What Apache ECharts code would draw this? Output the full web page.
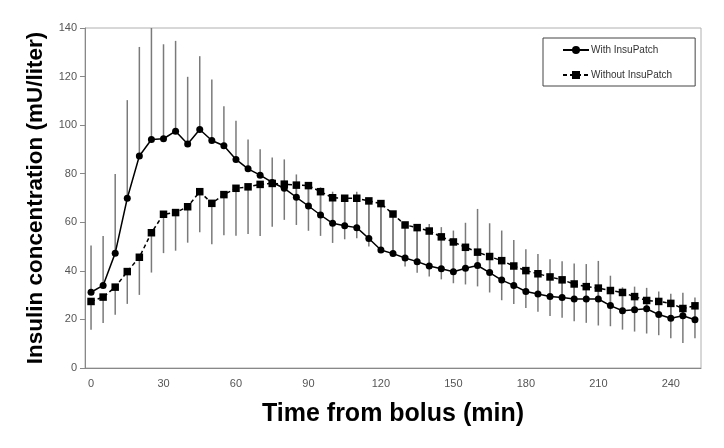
<!DOCTYPE html>
<html>
<head>
<meta charset="utf-8">
<script src="https://cdn.jsdelivr.net/npm/echarts@6/dist/echarts.min.js"></script>
<style>html,body{margin:0;padding:0;background:#fff}#c{width:724px;height:448px}</style>
</head>
<body>
<div id="c"></div>
<script>
// Time points (min), every 5 min
const times = ['0','5','10','15','20','25','30','35','40','45','50','55','60','65','70','75','80','85','90','95','100','105','110','115','120','125','130','135','140','145','150','155','160','165','170','175','180','185','190','195','200','205','210','215','220','225','230','235','240','245','250'];

// With InsuPatch: mean values
const withMean = [31.2,34.0,47.3,69.9,87.3,94.1,94.4,97.5,92.2,98.2,93.7,91.5,85.9,
  82.0,79.4,76.4,74.0,70.3,66.7,63.0,59.6,58.6,57.8,53.3,48.6,
  47.1,45.3,43.8,42.0,40.9,39.6,41.1,42.2,39.3,36.2,34.0,31.5,30.5,29.4,
  29.0,28.4,28.4,28.4,25.7,23.6,24.0,24.4,22.0,20.5,21.5,19.9];
// With InsuPatch: upper end of error bar
const withUpper = [50.4,54.4,79.9,110.3,132.2,140,133.3,134.7,119.9,128.4,118.8,107.8,101.8,
  94.1,90.1,86.7,85.9,79.7,76.0,74.4,72.6,70.5,72.6,69.5,68.5,
  64.4,59.8,59.3,59.3,58.0,56.6,59.8,65.5,59.6,56.6,52.7,48.9,46.9,44.8,
  44.0,43.0,42.8,44.1,38.0,33.2,33.5,33.0,31.5,30.6,31.0,29.0];

// Without InsuPatch: mean values
const withoutMean = [27.4,29.2,33.3,39.7,45.6,55.7,63.3,64.0,66.4,72.6,67.8,71.4,74.0,
  74.6,75.6,76.0,75.7,75.3,75.1,72.6,70.1,69.9,69.9,68.8,67.7,
  63.4,58.9,57.8,56.4,54.0,51.9,49.7,47.7,45.9,44.2,42.0,40.1,38.8,37.5,
  36.3,34.6,33.5,32.9,31.9,31.1,29.4,27.8,27.4,26.6,24.5,25.6];
// Without InsuPatch: lower end of error bar
const withoutLower = [15.7,18.5,21.9,26.4,30.1,39.3,47.3,48.3,51.6,55.9,51.0,54.7,54.5,
  55.2,54.4,58.2,61.0,58.9,56.5,54.4,51.5,53.0,53.4,50.0,48.6,
  47.0,41.8,39.2,37.7,36.5,34.9,34.4,33.6,31.1,27.9,26.4,24.7,23.2,21.4,
  20.7,19.2,18.6,17.5,17.2,15.8,15.0,14.2,13.5,12.2,10.3,12.3];

const yTicks = {min: 0, max: 140, interval: 20};

const FONT = 'Liberation Sans, Arial, sans-serif';

const errWith = times.map((t, i) => [i, withMean[i], withUpper[i]]);
const errWithout = times.map((t, i) => [i, withoutMean[i], withoutLower[i]]);

function errRender(params, api) {
  const p1 = api.coord([api.value(0), api.value(1)]);
  const p2 = api.coord([api.value(0), api.value(2)]);
  return {
    type: 'line',
    shape: {x1: p1[0], y1: p1[1], x2: p2[0], y2: p2[1]},
    style: {stroke: '#7a7a7a', lineWidth: 1.5}
  };
}

const chart = echarts.init(document.getElementById('c'), null, {renderer: 'canvas'});
chart.setOption({
  animation: false,
  backgroundColor: '#fff',
  textStyle: {fontFamily: FONT},
  grid: {left: 85, right: 23, top: 28, bottom: 80, show: true, borderColor: '#b0b0b0', borderWidth: 1, backgroundColor: 'transparent'},
  legend: {
    orient: 'vertical',
    left: 543, top: 38,
    backgroundColor: '#fff',
    borderColor: '#444',
    borderWidth: 1,
    borderRadius: 0,
    padding: [7, 23, 6, 19],
    itemGap: 15,
    itemWidth: 26,
    itemHeight: 10,
    textStyle: {fontFamily: FONT, fontSize: 10, color: '#333', padding: [0, 0, 0, -3]},
    data: ['With InsuPatch', 'Without InsuPatch']
  },
  xAxis: {
    type: 'category',
    data: times,
    boundaryGap: true,
    name: 'Time from bolus (min)',
    nameLocation: 'middle',
    nameGap: 34,
    nameTextStyle: {fontFamily: FONT, fontSize: 25, fontWeight: 'bold', color: '#000'},
    axisLine: {lineStyle: {color: '#888', width: 1}},
    axisTick: {interval: 2, length: 5, lineStyle: {color: '#888'}},
    axisLabel: {interval: 5, color: '#555', fontSize: 11, fontFamily: FONT, margin: 10},
    splitLine: {show: false}
  },
  yAxis: {
    type: 'value',
    min: yTicks.min, max: yTicks.max, interval: yTicks.interval,
    name: 'Insulin concentration (mU/liter)',
    nameLocation: 'middle',
    nameGap: 36,
    nameTextStyle: {fontFamily: FONT, fontSize: 22.5, fontWeight: 'bold', color: '#000'},
    axisLine: {show: true, lineStyle: {color: '#888', width: 1}},
    axisTick: {show: true, length: 5, lineStyle: {color: '#888'}},
    axisLabel: {color: '#555', fontSize: 11, fontFamily: FONT, margin: 8},
    splitLine: {show: false}
  },
  series: [
    {
      type: 'custom', name: 'errWith', data: errWith, renderItem: errRender,
      encode: {x: 0, y: [1, 2]}, z: 1, clip: true, silent: true
    },
    {
      type: 'custom', name: 'errWithout', data: errWithout, renderItem: errRender,
      encode: {x: 0, y: [1, 2]}, z: 1, clip: true, silent: true
    },
    {
      type: 'line', name: 'Without InsuPatch', data: withoutMean, z: 3,
      symbol: 'rect', symbolSize: 7.5,
      lineStyle: {color: '#000', width: 1.5, type: [4, 3]},
      itemStyle: {color: '#000'}
    },
    {
      type: 'line', name: 'With InsuPatch', data: withMean, z: 4,
      symbol: 'circle', symbolSize: 7,
      lineStyle: {color: '#000', width: 1.5},
      itemStyle: {color: '#000'}
    }
  ]
});
</script>
</body>
</html>
